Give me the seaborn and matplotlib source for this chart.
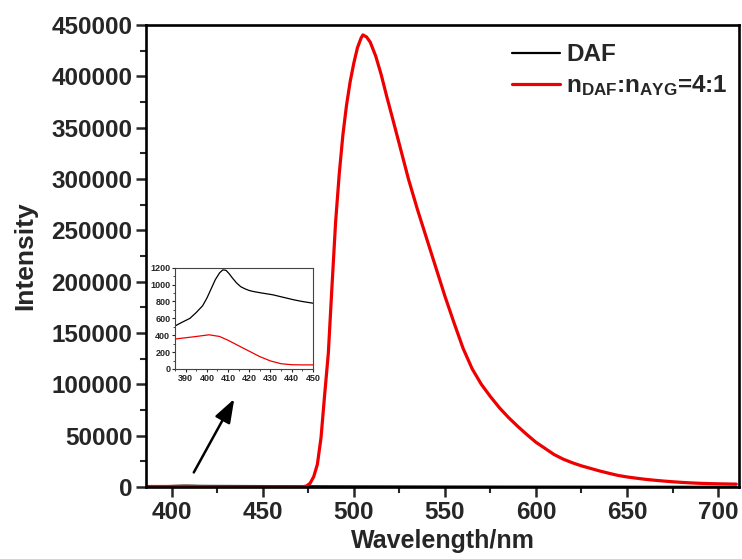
import pandas as pd
import matplotlib
matplotlib.use("Agg")
import matplotlib.pyplot as plt
from matplotlib.ticker import MultipleLocator
import seaborn as sns

sns.set_theme(style="ticks")
plt.rcParams["font.family"] = ["Liberation Sans", "DejaVu Sans"]
plt.rcParams["font.weight"] = "bold"
plt.rcParams["mathtext.fontset"] = "custom"
plt.rcParams["mathtext.rm"] = "Liberation Sans:bold"
plt.rcParams["mathtext.bf"] = "Liberation Sans:bold"
plt.rcParams["mathtext.default"] = "bf"

# DAF
wl_daf = [385, 388, 392, 395, 398, 400, 402, 404, 406, 407.5, 409, 410.5, 412, 414, 416,
          418, 420, 422, 426, 431, 436, 441, 445, 450, 455, 460, 470, 480, 500,
          550, 600, 650, 700, 710]
int_daf = [510, 550, 600, 670, 750, 840, 950, 1060, 1140, 1175, 1170, 1130, 1080, 1020, 975,
           950, 930, 918, 900, 880, 850, 820, 800, 780, 750, 700, 620, 550, 450,
           300, 200, 120, 80, 70]

# n_DAF:n_AYG = 4:1
wl_mix = [385, 390, 395, 401, 406, 410, 415, 420, 425, 430, 435, 440, 445, 450, 460,
          470, 472, 474, 476, 478, 480, 482, 484, 486, 488, 490, 492, 494, 496, 498,
          500, 502, 504, 505, 507, 509, 512, 515, 518, 521, 525, 530, 535, 540, 545,
          550, 555, 560, 565, 570, 575, 580, 585, 590, 595, 600, 605, 610, 615, 620,
          625, 630, 635, 640, 645, 650, 655, 660, 665, 670, 675, 680, 685, 690, 695,
          700, 705, 710]
int_mix = [355, 370, 385, 405, 385, 340, 275, 210, 146, 95, 62, 50, 48, 48, 48,
           60, 200, 800, 3500, 10000, 22000, 48000, 90000, 130000, 195000, 258000, 305000, 343000, 372000, 395000,
           413000, 428000, 437500, 440500, 438500, 433500, 420000, 402000, 381000, 361000, 334000, 300000, 270000, 242000, 214000,
           186000, 160000, 135000, 115000, 100000, 88000, 77000, 67500, 59000, 51000, 43500, 37500, 31500, 27000, 23500,
           20500, 18000, 15500, 13300, 11200, 9700, 8500, 7400, 6500, 5700, 5000, 4400, 3900, 3500, 3200,
           3000, 2850, 2700]

label_daf = "DAF"
label_mix = r"n$_{DAF}$:n$_{AYG}$=4:1"

df = pd.concat([
    pd.DataFrame({"wl": wl_daf, "intensity": int_daf, "sample": label_daf}),
    pd.DataFrame({"wl": wl_mix, "intensity": int_mix, "sample": label_mix}),
])
palette = {label_daf: "black", label_mix: "#ee0000"}

fig = plt.figure(figsize=(7.42, 5.59), dpi=100)
ax = fig.add_axes([0.197, 0.129, 0.799, 0.826])

sns.lineplot(data=df, x="wl", y="intensity", hue="sample", palette=palette,
             linewidth=2.3, ax=ax, estimator=None, sort=True)
ax.lines[0].set_linewidth(1.6)
for ln in ax.lines:
    ln.set_solid_joinstyle("round")

ax.set_xlim(386, 711.5)
ax.set_ylim(0, 450000)
ax.xaxis.set_major_locator(MultipleLocator(50))
ax.xaxis.set_minor_locator(MultipleLocator(25))
ax.yaxis.set_major_locator(MultipleLocator(50000))
ax.yaxis.set_minor_locator(MultipleLocator(25000))
ax.tick_params(which="major", direction="out", length=7, width=1.8, labelsize=17.5,
               top=False, right=False, pad=3)
ax.tick_params(which="minor", direction="out", length=4, width=1.5, top=False, right=False)
for lab in ax.get_xticklabels() + ax.get_yticklabels():
    lab.set_fontweight("bold")
for sp in ax.spines.values():
    sp.set_linewidth(1.9)
    sp.set_color("black")
ax.set_xlabel("Wavelength/nm", fontsize=18, fontweight="bold", labelpad=4)
ax.set_ylabel("Intensity", fontsize=19, fontweight="bold", labelpad=10)

leg = ax.legend(loc="upper right", bbox_to_anchor=(1.008, 0.995), frameon=False,
                handlelength=2.0, handletextpad=0.25, borderaxespad=0.25, labelspacing=0.3,
                prop={"weight": "bold", "size": 17.5})
leg.get_lines()[0].set_linewidth(1.6)

ax.annotate("", xy=(435.1, 88100), xytext=(411.4, 11700),
            arrowprops=dict(arrowstyle="-|>,head_length=0.9,head_width=0.32",
                            color="black", lw=1.8, mutation_scale=16))

# inset
ins = fig.add_axes([0.236, 0.340, 0.1856, 0.181])
sns.lineplot(data=df, x="wl", y="intensity", hue="sample", palette=palette,
             linewidth=0.9, ax=ins, estimator=None, legend=False)
ins.set_xlim(385, 450)
ins.set_ylim(0, 1200)
ins.xaxis.set_major_locator(MultipleLocator(10))
ins.yaxis.set_major_locator(MultipleLocator(200))
ins.yaxis.set_minor_locator(MultipleLocator(100))
ins.xaxis.set_minor_locator(MultipleLocator(5))
ins.tick_params(which="major", direction="out", length=2.5, width=0.8, labelsize=6.5, pad=1,
                top=False, right=False)
ins.tick_params(which="minor", direction="out", length=1.5, width=0.6, top=False, right=False)
for lab in ins.get_xticklabels() + ins.get_yticklabels():
    lab.set_fontweight("bold")
for sp in ins.spines.values():
    sp.set_linewidth(0.8)
    sp.set_color("#444444")
ins.set_xlabel("")
ins.set_ylabel("")

fig.savefig("out.png", dpi=100)
